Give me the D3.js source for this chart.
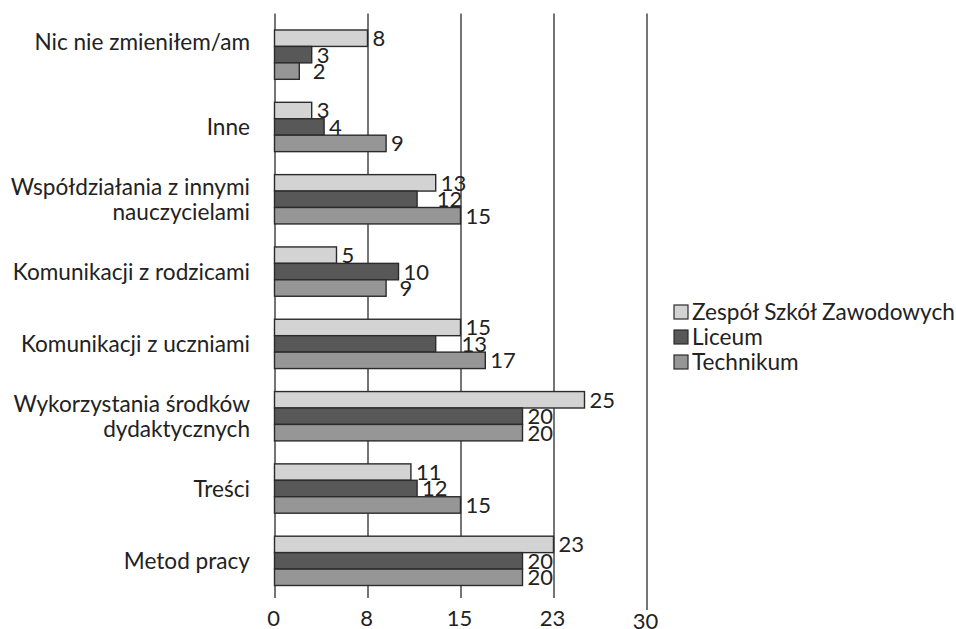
<!DOCTYPE html>
<html>
<head>
<meta charset="utf-8">
<script src="https://cdn.jsdelivr.net/npm/d3@7"></script>
<style>
  body { margin: 0; background: #fff; }
  text { font-family: Lato, "Open Sans", sans-serif; fill: #222; }
</style>
</head>
<body>
<script>
// categories top to bottom, "\n" marks a line break in the label
const categories = [
  'Nic nie zmieniłem/am\n',
  'Inne',
  'Współdziałania z innymi\nnauczycielami',
  'Komunikacji z rodzicami',
  'Komunikacji z uczniami',
  'Wykorzystania środków\ndydaktycznych',
  'Treści',
  'Metod pracy'
]
const seriesNames = ['Zespół Szkół Zawodowych', 'Liceum', 'Technikum']
const zszValues = [7.5, 3, 13, 5, 15, 25, 11, 22.5]
const liceumValues = [3, 4, 11.5, 10, 13, 20, 11.5, 20]
const technikumValues = [2, 9, 15, 9, 17, 20, 15, 20]
const tickValues = [0, 7.5, 15, 22.5, 30]

const seriesValues = [zszValues, liceumValues, technikumValues]
const fills = ['#d3d3d3', '#585858', '#969696']
const fontSize = 22
const textSize = 22.6

function createSVG() {
  mainSVG = d3.select('body').append('svg').attr('width', 956).attr('height', 629)
}

function createScales() {
  x = d3.scaleLinear().domain([0, 30]).range([274.5, 646.5])
  y = d3.scaleBand().domain(categories).range([18.5, 597]).paddingInner(0.318).paddingOuter(0.159)
  ySub = d3.scaleBand().domain(seriesNames).range([0, y.bandwidth()])
}

function createGrid() {
  const axis = d3.axisBottom(x)
    .tickValues(tickValues)
    .tickFormat(d3.format('.0f'))
    .tickSizeInner(-(598 - 13.5))
    .tickSizeOuter(0)
    .tickPadding(0)
  const g = mainSVG.append('g').attr('transform', 'translate(0,598)').call(axis)
  g.select('.domain').remove()
  g.selectAll('.tick line').attr('stroke', '#2b2b2b').attr('stroke-width', 1.3)
  // the last gridline runs a bit lower than the others in the original
  g.selectAll('.tick').filter(d => d === 30).select('line').attr('y1', 12)
  g.selectAll('.tick text')
    .attr('font-size', fontSize)
    .attr('dy', null)
    .attr('x', -1.5)
    .attr('y', d => d === 30 ? 31 : 27.5)
}

function createBars() {
  seriesNames.forEach((name, s) => {
    const data = categories.map((c, i) => ({ cat: c, value: seriesValues[s][i] }))
    mainSVG.append('g').selectAll('rect')
      .data(data)
      .join('rect')
      .attr('x', x(0))
      .attr('y', d => y(d.cat) + ySub(name))
      .attr('width', d => x(d.value) - x(0))
      .attr('height', ySub.bandwidth())
      .attr('fill', fills[s])
      .attr('stroke', '#2b2b2b')
      .attr('stroke-width', 1.4)
  })
}

function createLabels() {
  const fmt = d3.format('.0f')
  categories.forEach((c, i) => {
    let prevLabel = null
    seriesNames.forEach((name, s) => {
      const v = seriesValues[s][i]
      let lx = x(v) + 5
      const cy = y(c) + ySub(name) + ySub.bandwidth() / 2
      const t = mainSVG.append('text')
        .attr('font-size', fontSize)
        .attr('y', cy + 0.36 * fontSize)
        .text(fmt(v))
      if (s > 0) {
        // nudge the label out from under the bar above when it would hit that bar's label
        const aboveEnd = x(seriesValues[s - 1][i])
        const w = t.node().getComputedTextLength()
        if (lx < aboveEnd && lx + w > prevLabel) lx = aboveEnd + 1
      }
      t.attr('x', lx)
      prevLabel = lx
    })
  })
}

function createCategoryLabels() {
  categories.forEach(c => {
    const lines = c.split('\n')
    const cy = y(c) + y.bandwidth() / 2
    const lh = 25
    const t = mainSVG.append('text')
      .attr('font-size', textSize)
      .attr('text-anchor', 'end')
    lines.forEach((line, k) => {
      t.append('tspan')
        .attr('x', 250)
        .attr('y', cy + 0.36 * textSize + (k - (lines.length - 1) / 2) * lh)
        .text(line)
    })
  })
}

function createLegend() {
  seriesNames.forEach((name, s) => {
    const cy = 312 + s * 25
    mainSVG.append('rect')
      .attr('x', 674)
      .attr('y', cy - 7)
      .attr('width', 14)
      .attr('height', 14)
      .attr('fill', fills[s])
      .attr('stroke', '#2b2b2b')
      .attr('stroke-width', 1.2)
    mainSVG.append('text')
      .attr('x', 692)
      .attr('y', cy + 0.36 * textSize)
      .attr('font-size', textSize)
      .text(name)
  })
}

createSVG()
createScales()
createGrid()
createBars()
createLabels()
createCategoryLabels()
createLegend()
</script>
</body>
</html>
